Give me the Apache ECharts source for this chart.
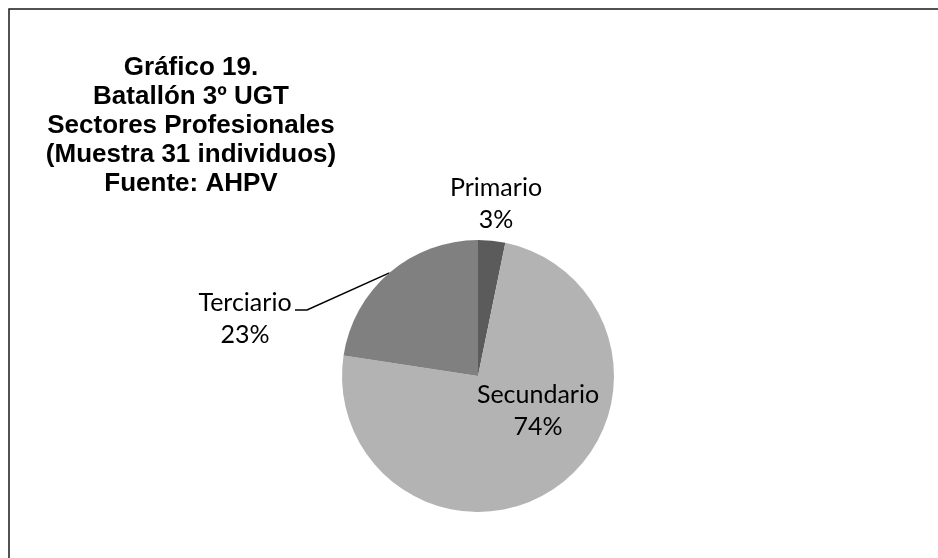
<!DOCTYPE html>
<html lang="es">
<head>
    <meta charset="UTF-8">
    <title>Gráfico 19</title>
    <script src="https://cdn.jsdelivr.net/npm/echarts@6/dist/echarts.min.js"></script>
    <style>
        html, body { margin: 0; padding: 0; background: #fff; }
    </style>
</head>
<body>
<div id="main" style="height:558px;width:938px"></div>

<script type="text/javascript">
    // datos: sectores profesionales, muestra de 31 individuos
    var sectores = ['Primario', 'Secundario', 'Terciario'];
    var individuos = [1, 23, 7];
    var grises = ['#5b5b5b', '#b3b3b3', '#808080'];

    var tituloLineas = [
        'Gráfico 19.',
        'Batallón 3º UGT',
        'Sectores Profesionales',
        '(Muestra 31 individuos)',
        'Fuente: AHPV'
    ];

    var datos = [];
    for (var i = 0; i < sectores.length; i++) {
        datos.push({
            name: sectores[i],
            value: individuos[i],
            itemStyle: { color: grises[i] },
            labelLine: { show: i === 2 }
        });
    }

    var myChart = echarts.init(document.getElementById('main'));
    myChart.setOption({
        animation: false,
        title: {
            text: tituloLineas.join('\n'),
            left: 186,
            top: 48,
            textAlign: 'center',
            textStyle: {
                fontFamily: 'Liberation Sans, Arial, sans-serif',
                fontWeight: 'bold',
                fontSize: 26,
                lineHeight: 29,
                color: '#000'
            }
        },
        graphic: [{
            // marco del gráfico (solo se ven los bordes izquierdo y superior)
            type: 'rect',
            shape: { x: 9, y: 9, width: 1000, height: 1000 },
            style: { fill: 'none', stroke: '#1a1a1a', lineWidth: 1.5 },
            silent: true
        }],
        series: [{
            type: 'pie',
            center: [478, 376],
            radius: 136,
            startAngle: 90,
            clockwise: true,
            avoidLabelOverlap: false,
            itemStyle: { borderWidth: 0 },
            label: {
                show: true,
                position: 'outside',
                formatter: function (p) {
                    return p.name + '\n' + Math.round(p.percent) + '%';
                },
                fontFamily: 'Lato, Open Sans, sans-serif',
                fontSize: 25,
                lineHeight: 32,
                color: '#000',
                align: 'center'
            },
            labelLine: {
                show: false,
                lineStyle: { color: '#000', width: 1.5 }
            },
            labelLayout: function (p) {
                if (p.dataIndex === 0) {
                    return { x: 496, y: 204, align: 'center', verticalAlign: 'middle' };
                }
                if (p.dataIndex === 1) {
                    return { x: 538, y: 411, align: 'center', verticalAlign: 'middle' };
                }
                // Terciario: etiqueta a la izquierda con línea guía
                var ancla = p.labelLinePoints ? p.labelLinePoints[0] : [390, 273];
                return {
                    x: 245,
                    y: 319,
                    align: 'center',
                    verticalAlign: 'middle',
                    labelLinePoints: [ancla, [307, 310], [295, 310]]
                };
            },
            data: datos
        }]
    });
</script>
</body>
</html>
